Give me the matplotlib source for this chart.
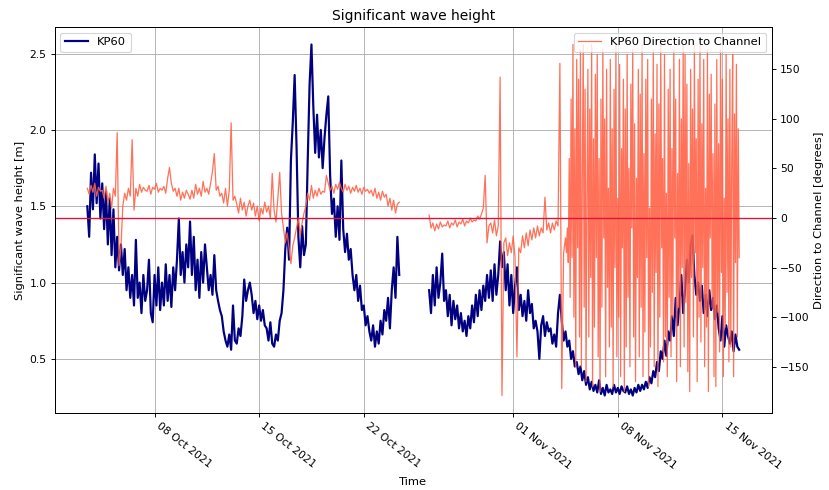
import numpy as np
import pandas as pd
import matplotlib
matplotlib.use("Agg")
import matplotlib.pyplot as plt
import matplotlib.dates as mdates

nan = float("nan")

# Sampling: every 3 hours, starting 2021-10-03 12:00 (one row = one day)
start_time = "2021-10-03 12:00"
step = "3h"

# Significant wave height [m], KP60
wave_height = [
    1.50, 1.30, 1.72, 1.48, 1.84, 1.52, 1.78, 1.42,   # Oct 3
    1.65, 1.35, 1.60, 1.25, 1.55, 1.18, 1.48, 1.10,   # Oct 4
    1.30, 1.08, 1.25, 1.05, 1.22, 0.95, 1.10, 0.90,   # Oct 5
    1.05, 0.85, 1.28, 0.90, 1.00, 0.80, 1.05, 0.88,   # Oct 6
    0.95, 1.15, 0.80, 0.74, 1.05, 0.85, 1.10, 0.82,   # Oct 7
    1.00, 0.85, 1.12, 0.88, 1.05, 0.84, 1.10, 0.95,   # Oct 8
    1.15, 1.42, 1.05, 1.20, 1.00, 1.25, 1.10, 1.40,   # Oct 9
    1.05, 1.30, 0.95, 1.15, 0.90, 1.20, 1.00, 1.25,   # Oct 10
    1.10, 0.95, 1.05, 0.92, 1.18, 0.95, 0.88, 0.82,   # Oct 11
    0.78, 0.68, 0.62, 0.58, 0.66, 0.56, 0.85, 0.62,   # Oct 12
    0.60, 0.70, 0.65, 0.78, 1.02, 0.88, 0.95, 1.00,   # Oct 13
    0.92, 0.80, 0.88, 0.76, 0.85, 0.75, 0.82, 0.72,   # Oct 14
    0.70, 0.62, 0.74, 0.60, 0.58, 0.66, 0.62, 0.75,   # Oct 15
    0.80, 0.95, 1.22, 1.36, 1.15, 1.80, 2.05, 2.36,   # Oct 16
    1.90, 1.30, 1.10, 1.37, 1.18, 1.25, 1.80, 2.30,   # Oct 17
    2.56, 2.15, 1.85, 2.10, 1.82, 2.00, 1.75, 1.95,   # Oct 18
    2.10, 2.22, 1.70, 1.45, 1.55, 1.30, 1.50, 1.28,   # Oct 19
    1.80, 1.35, 1.20, 1.32, 1.15, 1.22, 1.05, 0.95,   # Oct 20
    1.05, 0.88, 0.98, 0.82, 0.85, 0.72, 0.78, 0.68,   # Oct 21
    0.62, 0.72, 0.58, 0.68, 0.60, 0.75, 0.66, 0.82,   # Oct 22
    0.75, 0.90, 0.70, 0.95, 1.10, 0.90, 1.30, 1.05,   # Oct 23
    nan, nan, nan, nan, nan, nan, nan, nan,           # Oct 24
    nan, nan, nan, nan, nan, nan, nan, 0.95,          # Oct 25
    0.80, 1.05, 0.85, 1.10, 0.90, 1.00, 1.19, 0.88,   # Oct 26
    0.95, 0.78, 0.92, 0.72, 0.88, 0.76, 0.85, 0.70,   # Oct 27
    0.80, 0.68, 0.75, 0.65, 0.78, 0.70, 0.85, 0.74,   # Oct 28
    0.92, 0.78, 0.95, 0.82, 0.98, 0.88, 1.05, 0.90,   # Oct 29
    1.08, 0.88, 1.12, 0.92, 1.05, 1.27, 1.10, 1.20,   # Oct 30
    0.95, 1.12, 0.85, 1.05, 0.80, 0.98, 1.10, 0.82,   # Oct 31
    0.92, 0.78, 0.88, 0.75, 0.95, 0.80, 0.86, 0.70,   # Nov 1
    0.75, 0.68, 0.50, 0.72, 0.78, 0.65, 0.74, 0.68,   # Nov 2
    0.70, 0.60, 0.66, 0.58, 0.80, 0.92, 0.75, 0.62,   # Nov 3
    0.68, 0.58, 0.62, 0.50, 0.55, 0.45, 0.48, 0.40,   # Nov 4
    0.45, 0.36, 0.42, 0.33, 0.38, 0.30, 0.35, 0.29,   # Nov 5
    0.33, 0.28, 0.36, 0.27, 0.31, 0.26, 0.33, 0.28,   # Nov 6
    0.30, 0.27, 0.33, 0.28, 0.31, 0.27, 0.32, 0.29,   # Nov 7
    0.28, 0.32, 0.27, 0.30, 0.26, 0.31, 0.28, 0.33,   # Nov 8
    0.29, 0.33, 0.30, 0.35, 0.31, 0.38, 0.34, 0.42,   # Nov 9
    0.38, 0.48, 0.42, 0.55, 0.50, 0.62, 0.52, 0.68,   # Nov 10
    0.62, 0.78, 0.65, 0.90, 0.72, 0.85, 1.05, 0.80,   # Nov 11
    0.95, 1.15, 1.00, 1.25, 1.31, 1.05, 0.92, 1.00,   # Nov 12
    0.88, 0.98, 0.80, 0.92, 0.78, 0.95, 0.82, 0.90,   # Nov 13
    0.76, 0.85, 0.70, 0.62, 0.78, 0.58, 0.72, 0.65,   # Nov 14
    0.60, 0.68, 0.55, 0.66, 0.58, 0.56,               # Nov 15
]

# Wave direction relative to channel [degrees], KP60 (3-hourly part)
direction = [
    30, 24, 33, 26, 35, 22, 31, 27,          # Oct 3
    28, 20, 32, 15, 25, 10, 30, 22,          # Oct 4
    86, -48, -30, 12, 25, 18, 30, 22,        # Oct 5
    79, 8, 30, 22, 34, 26, 31, 28,           # Oct 6
    27, 33, 24, 31, 29, 35, 26, 30,          # Oct 7
    28, 32, 25, 40, 51, 35, 27, 30,          # Oct 8
    22, 30, 18, 26, 20, 28, 24, 19,          # Oct 9
    28, 20, 34, 24, 30, 22, 37, 26,          # Oct 10
    30, 24, 35, 47, 65, 28, 32, 22,          # Oct 11
    25, 15, 30, 12, 28, 96, 18, 22,          # Oct 12
    14, 5, 20, 8, 16, 2, 12, 18,             # Oct 13
    8, 15, 2, 12, -3, 10, 4, 16,             # Oct 14
    6, 12, 0, 45, 8, -4, 20, 46,             # Oct 15
    5, -10, -25, -15, -30, -46, -28, -20,    # Oct 16
    -10, 0, -18, -5, 5, 12, 25, 18,          # Oct 17
    33, 20, 28, 22, 30, 24, 27, 26,          # Oct 18
    43, 35, 28, 32, 25, 34, 29, 36,          # Oct 19
    30, 26, 34, 28, 32, 25, 31, 27,          # Oct 20
    33, 26, 30, 24, 31, 27, 29, 25,          # Oct 21
    28, 22, 30, 20, 26, 18, 27, 21,          # Oct 22
    24, 12, 20, 8, 18, 5, 14, 16,            # Oct 23
    nan, nan, nan, nan, nan, nan, nan, nan,  # Oct 24
    nan, nan, nan, nan, nan, nan, nan, 3,    # Oct 25
    -10, -5, -13, -6, -11, -4, -9, -7,       # Oct 26
    -8, -3, -10, -5, -7, -2, -9, -4,         # Oct 27
    -6, -1, -8, -3, -5, 0, -4, -2,           # Oct 28
    -3, 2, -1, 4, 10, 43, -25, -8,           # Oct 29
    -5, -15, -2, -18, -8, 142, -179, -25,    # Oct 30
    -20, -38, -25, -35, -18, -40, -140, -30, # Oct 31
    -35, -18, -30, -15, -28, -12, -22, -10,  # Nov 1
    -20, -8, -18, -10, -15, 21, -12, -5,     # Nov 2
    -15, -5, -12, -3, -8, 156, -172, -35,    # Nov 3
]

# Direction, 90-minute part (from 2021-11-04 12:00, one row = one day)
chaos_start = "2021-11-04 12:00"
chaos_step = "90min"
direction_chaos = [
    -20, -35, -10, -45, 60, -80, 120, -40, 175, -100, 90, -150, 160, -30, 140, -120,   # Nov 4
    170, -150, 40, 175, -90, 130, -165, 20, 150, -120, 110, -60, 175, -170, 80, -110,  # Nov 5
    145, -40, 165, -140, 60, -175, 120, -90, 170, -20, 100, -160, 150, -70, 30, -130,  # Nov 6
    160, -110, 90, -170, 130, -50, 175, -140, 20, -100, 155, -160, 70, -30, 140, -175, # Nov 7
    110, -130, 165, -80, 50, -150, 135, -10, 170, -120, 95, -165, 40, -60, 150, -140,  # Nov 8
    125, -90, 175, -160, 65, -115, 140, -40, 160, -170, 10, -130, 120, -75, 170, -150, # Nov 9
    85, -55, 155, -170, 115, -100, 175, -30, 60, -145, 165, -120, 25, -160, 130, -80,  # Nov 10
    150, -140, 70, -100, 170, -20, 120, -165, 45, -90, 160, -150, 100, -50, 175, -130, # Nov 11
    165, -85, 135, -155, 55, -175, 150, -60, 110, -120, 175, -35, 80, -165, 140, -100, # Nov 12
    175, -125, 95, -50, 160, -150, 30, -110, 170, -175, 125, -20, 145, -90, 65, -160,  # Nov 13
    115, -170, 160, -95, 75, -135, 170, -55, 140, -160, 20, -110, 165, -75, 100, -145, # Nov 14
    150, -130, 60, 165, -160, 105, -45, 155, -120, 90, -40,                            # Nov 15
]

times = pd.date_range(start_time, periods=len(wave_height), freq=step)
dir_times = pd.date_range(start_time, periods=len(direction), freq=step).append(
    pd.date_range(chaos_start, periods=len(direction_chaos), freq=chaos_step))
dir_values = list(direction) + list(direction_chaos)

DPI = 82.9
TICK_SIZE = 9.4
fig = plt.figure(figsize=(829 / DPI, 490 / DPI), dpi=DPI)
ax1 = fig.add_subplot(111)
fig.subplots_adjust(left=0.066, right=0.931, bottom=0.157, top=0.945)

ax1.plot(times, wave_height, color="navy", lw=1.9, label="KP60")
ax1.set_ylabel("Significant wave height [m]")
ax1.set_xlabel("Time", labelpad=5)
ax1.set_title("Significant wave height")
ax1.grid(True)
ax1.legend(loc="upper left")
ax1.tick_params(labelsize=TICK_SIZE)

ax2 = ax1.twinx()
ax2.plot(dir_times, dir_values, color="tomato", lw=1.1, alpha=0.9,
         label="KP60 Direction to Channel")
ax2.axhline(0, color="crimson", lw=1.2)
ax2.set_ylabel("Direction to Channel [degrees]")
ax2.legend(loc="upper right")
ax2.tick_params(labelsize=TICK_SIZE)

ax1.xaxis.set_major_locator(mdates.DayLocator(bymonthday=[1, 8, 15, 22]))
ax1.xaxis.set_major_formatter(mdates.DateFormatter("%d %b %Y"))
for lbl in ax1.get_xticklabels():
    lbl.set_rotation(-38)
    lbl.set_ha("left")

fig.savefig("out.png", dpi=DPI)
